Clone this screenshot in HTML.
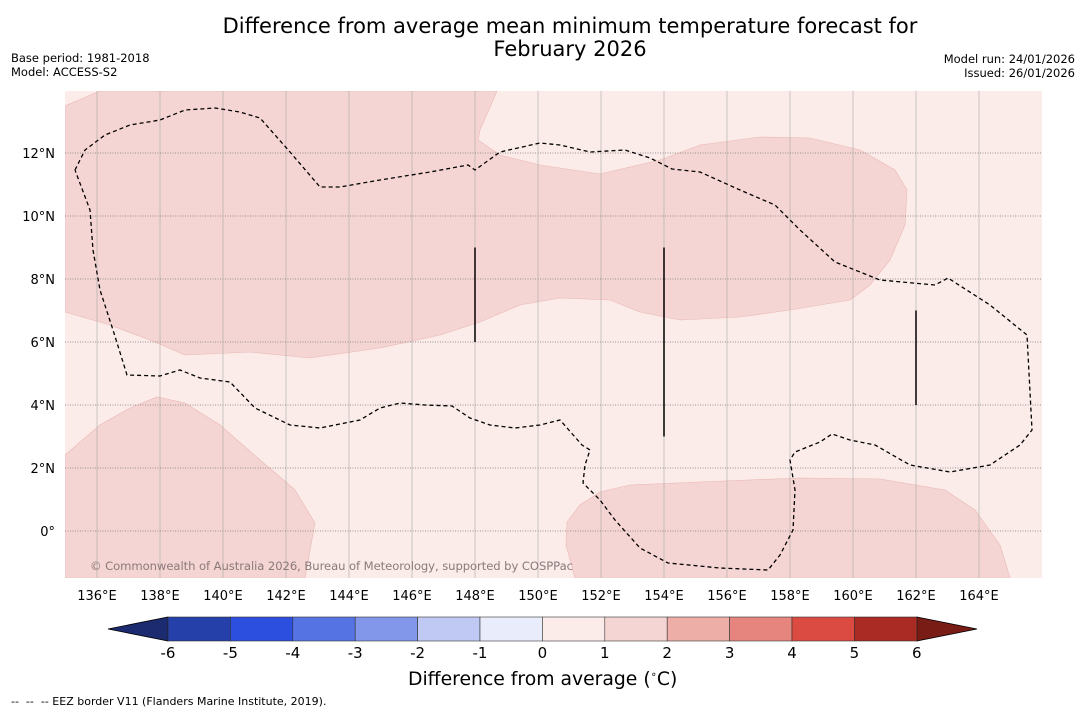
<!DOCTYPE html>
<html><head><meta charset="utf-8"><style>
body{margin:0;background:#fff;font-family:"DejaVu Sans","Liberation Sans",sans-serif}
#root{position:relative;width:1085px;height:713px;overflow:hidden}
.t{position:absolute;font-size:11.5px;color:#000}
</style></head><body><div id="root">
<div class="t" style="left:0;width:1140px;top:15px;text-align:center;font-size:21px;line-height:23px">Difference from average mean minimum temperature forecast for<br>February 2026</div>
<div class="t" style="left:11px;top:51px;line-height:14px">Base period: 1981-2018<br>Model: ACCESS-S2</div>
<div class="t" style="right:10px;top:52px;line-height:14px;text-align:right">Model run: 24/01/2026<br>Issued: 26/01/2026</div>
<svg id="map" width="1085" height="713" style="position:absolute;left:0;top:0"></svg>
<div class="t" style="left:408px;top:669px;font-size:18.8px">Difference from average (<sup style="font-size:10px">∘</sup>C)</div>
<div class="t" style="left:11px;top:695px;font-size:11px">-- &nbsp;-- &nbsp;-- EEZ border V11 (Flanders Marine Institute, 2019).</div>
</div>
<script>
const lonTicks=[136,138,140,142,144,146,148,150,152,154,156,158,160,162,164];
const latTicks=[0,2,4,6,8,10,12];
const levels=[-6,-5,-4,-3,-2,-1,0,1,2,3,4,5,6];
const colors=["#2540a8","#2c4fe0","#5673e4","#8297ea","#c0c9f4","#e9ecfa","#fbebe9","#f5d5d3","#edaea8","#e6857d","#db4b41","#aa2a24"];
const X=l=>97+(l-136)*31.5, Y=l=>531-l*31.5;
const NS="http://www.w3.org/2000/svg", svg=document.getElementById('map');
const FF='DejaVu Sans, Liberation Sans, sans-serif';
function mk(tag,at,parent){const e=document.createElementNS(NS,tag);for(const k in at)e.setAttribute(k,at[k]);(parent||svg).appendChild(e);return e;}
const clip=mk('clipPath',{id:'c'});mk('rect',{x:65,y:91,width:977,height:487},clip);
const g=mk('g',{'clip-path':'url(#c)'});
let e=mk('rect',{x:65,y:91,width:977,height:487,fill:'#fbebe9'},g);

const regions=[
"65,106 100,91 497,91 480,130 478,140 500,155 540,165 600,174 660,160 700,145 760,137 810,138 860,150 895,170 907,190 905,225 890,260 870,285 850,300 790,310 740,317 680,320 640,312 610,300 560,298 520,305 480,322 440,335 380,348 310,358 250,352 185,355 150,340 110,325 65,312",
"65,455 100,425 130,408 157,397 185,403 220,425 260,460 295,490 315,523 310,550 305,578 65,578",
"567,522 580,505 600,492 630,485 700,482 800,478 880,479 945,490 975,510 1000,545 1010,578 575,578 566,545"];
regions.forEach(p=>{const r=mk('polygon',{points:p,fill:'#f5d5d3',stroke:'#e9b8b4','stroke-width':0.6},g);
});
lonTicks.forEach(l=>{mk('line',{x1:X(l),x2:X(l),y1:91,y2:578,stroke:'#aaa','stroke-width':0.6},g);});
latTicks.forEach(l=>{mk('line',{x1:65,x2:1042,y1:Y(l),y2:Y(l),stroke:'#777','stroke-width':0.7,'stroke-dasharray':'1,1.5'},g);});
e=mk('polyline',{points:"75,170 85,150 105,135 130,125 160,120 185,110 215,108 240,112 260,118 290,152 320,187 340,187 380,180 430,172 468,165 475,170 500,152 540,143 560,145 590,152 625,150 650,158 672,169 700,172 740,190 775,205 800,230 835,262 880,280 935,285 948,278 990,305 1027,335 1032,430 1020,445 990,465 950,472 910,465 875,445 850,440 832,434 820,442 795,452 790,460 795,490 793,530 780,555 768,570 720,568 668,563 640,548 615,520 600,500 583,483 585,465 590,450 582,445 560,420 540,425 515,428 490,425 470,418 452,406 425,405 400,403 380,408 360,420 320,428 290,425 255,408 230,382 200,378 180,370 160,376 127,375 113,330 100,290 93,250 90,210 75,170",fill:'none',stroke:'#000','stroke-width':1.3,'stroke-dasharray':'4,3'},g);

[[148,9,6],[154,9,3],[162,7,4]].forEach(v=>{const l=mk('line',{x1:X(v[0]),x2:X(v[0]),y1:Y(v[1]),y2:Y(v[2]),stroke:'#000','stroke-width':1.5},g);
});
e=mk('text',{x:90,y:570,'font-size':11.6,fill:'#8a7a7a','font-family':FF,textLength:483},g);
e.textContent='© Commonwealth of Australia 2026, Bureau of Meteorology, supported by COSPPac';

lonTicks.forEach(l=>{const t=mk('text',{x:X(l),y:600,'font-size':13,'text-anchor':'middle','font-family':FF});t.textContent=l+'°E';
});
latTicks.forEach(l=>{const t=mk('text',{x:55,y:Y(l)+5,'font-size':13,'text-anchor':'end','font-family':FF});t.textContent=l===0?'0°':l+'°N';
});
const cx=v=>168+(v+6)*62.4, cy=617, ch=24;
e=mk('polygon',{points:`${cx(-6)},${cy} ${cx(-6)},${cy+ch} 108,${cy+ch/2}`,fill:'#1c2a70',stroke:'#000','stroke-width':0.8});

e=mk('polygon',{points:`${cx(6)},${cy} ${cx(6)},${cy+ch} 977,${cy+ch/2}`,fill:'#7a1c16',stroke:'#000','stroke-width':0.8});

colors.forEach((c,i)=>{const r=mk('rect',{x:cx(levels[i]),y:cy,width:cx(levels[i+1])-cx(levels[i]),height:ch,fill:c,stroke:'#333','stroke-width':0.6});
});
levels.forEach(v=>{const t=mk('text',{x:cx(v),y:658,'font-size':15,'text-anchor':'middle','font-family':FF});t.textContent=v;
});
</script></body></html>
